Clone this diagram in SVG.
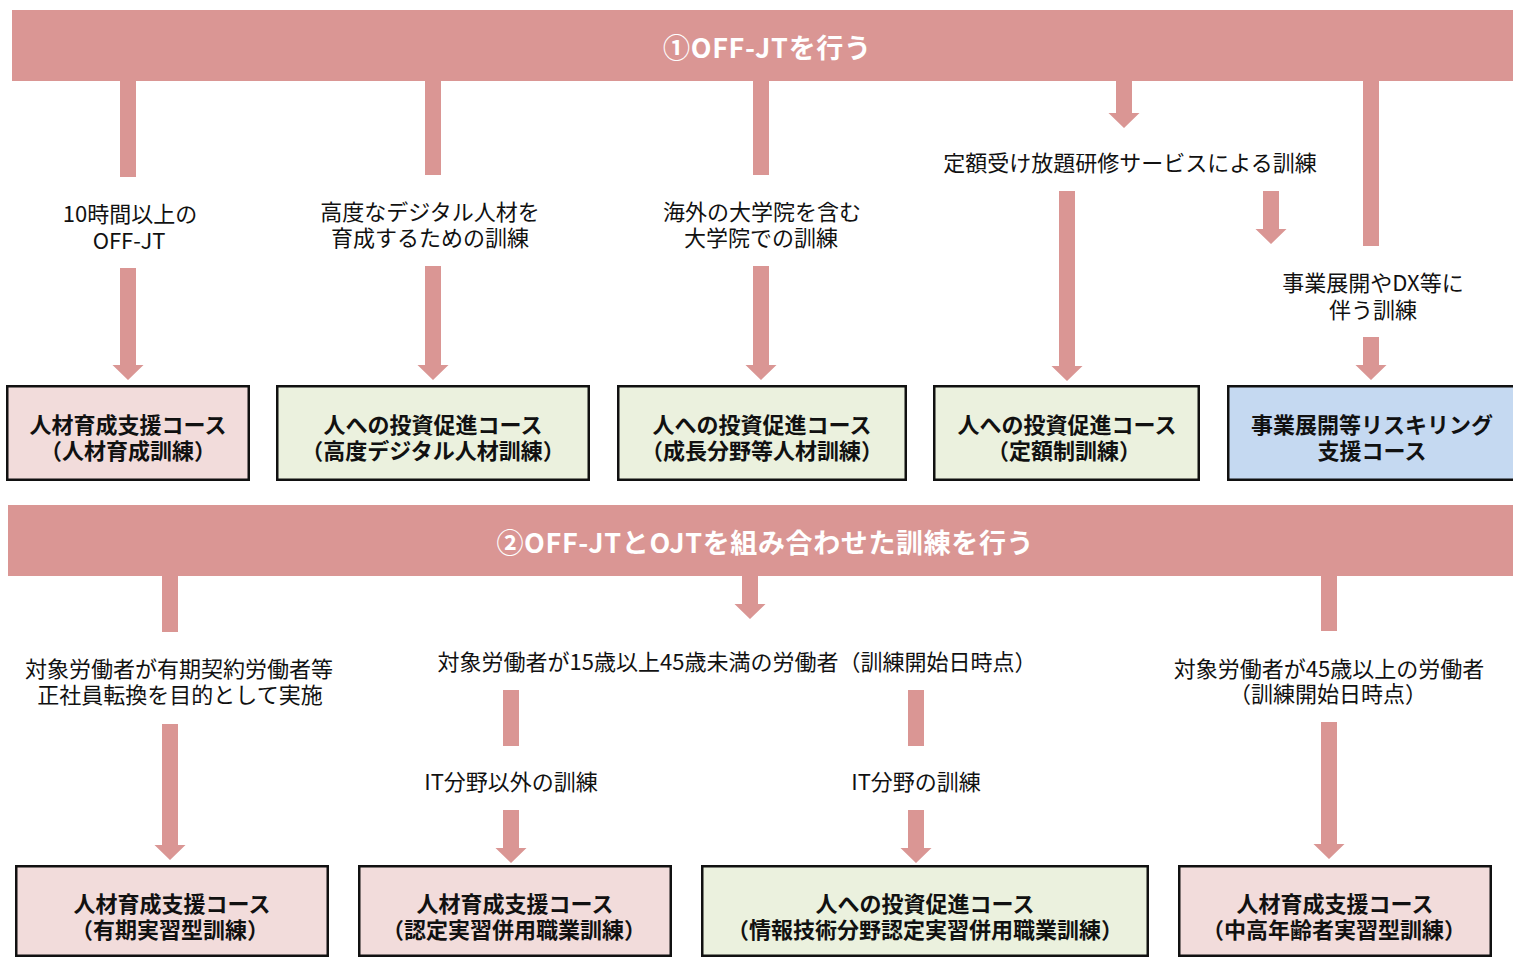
<svg xmlns="http://www.w3.org/2000/svg" width="1513" height="958" viewBox="0 0 1513 958">
<style>
.bn{fill:#DA9694}
.bt{font-family:"Noto Sans CJK JP",sans-serif;font-weight:bold;font-size:27px;fill:#fff;text-anchor:middle}
.ar{fill:#DA9694}
.lb{font-family:"Noto Sans CJK JP",sans-serif;font-size:22px;fill:#111;text-anchor:middle}
.bx{stroke:#111;stroke-width:2.5}
.pk{fill:#F2DCDB}
.gr{fill:#EBF1DE}
.bl{fill:#C5D9F1}
.nt{font-family:"Noto Sans CJK JP",sans-serif;font-weight:bold;font-size:22px;fill:#111;text-anchor:middle}
</style>
<rect width="1513" height="958" fill="#fff"/>
<g id="banner1">
<rect class="bn" x="12" y="10" width="1501" height="71"/>
<text class="bt" x="767" y="58" textLength="208">①OFF-JTを行う</text>
</g>
<g id="banner2">
<rect class="bn" x="8" y="505" width="1505" height="71"/>
<text class="bt" x="765" y="553" textLength="537">②OFF-JTとOJTを組み合わせた訓練を行う</text>
</g>
<g id="connectors">
<rect class="ar" x="120" y="81" width="16" height="96"/>
<path class="ar" d="M120,268H136V365H143.5L128,380L112.5,365H120Z"/>
<rect class="ar" x="425" y="81" width="16" height="94"/>
<path class="ar" d="M425,266H441V365H448.5L433,380L417.5,365H425Z"/>
<rect class="ar" x="753" y="81" width="16" height="94"/>
<path class="ar" d="M753,266H769V365H776.5L761,380L745.5,365H753Z"/>
<path class="ar" d="M1116,81H1132V113H1139.5L1124,128L1108.5,113H1116Z"/>
<path class="ar" d="M1059,191H1075V366H1082.5L1067,381L1051.5,366H1059Z"/>
<path class="ar" d="M1263,191H1279V229H1286.5L1271,244L1255.5,229H1263Z"/>
<rect class="ar" x="1363" y="81" width="16" height="165"/>
<path class="ar" d="M1363,337H1379V365H1386.5L1371,380L1355.5,365H1363Z"/>
<rect class="ar" x="162" y="576" width="16" height="56"/>
<path class="ar" d="M162,724H178V845H185.5L170,860L154.5,845H162Z"/>
<path class="ar" d="M742,576H758V604H765.5L750,619L734.5,604H742Z"/>
<rect class="ar" x="503" y="690" width="16" height="56"/>
<path class="ar" d="M503,810H519V848H526.5L511,863L495.5,848H503Z"/>
<rect class="ar" x="908" y="690" width="16" height="56"/>
<path class="ar" d="M908,810H924V848H931.5L916,863L900.5,848H908Z"/>
<rect class="ar" x="1321" y="576" width="16" height="55"/>
<path class="ar" d="M1321,722H1337V844H1344.5L1329,859L1313.5,844H1321Z"/>
<text class="lb"><tspan x="130" y="222">10時間以上の</tspan><tspan x="129" y="249">OFF-JT</tspan></text>
<text class="lb"><tspan x="430" y="220">高度なデジタル人材を</tspan><tspan x="430" y="246">育成するための訓練</tspan></text>
<text class="lb"><tspan x="762" y="220">海外の大学院を含む</tspan><tspan x="761" y="246">大学院での訓練</tspan></text>
<text class="lb" x="1130" y="171">定額受け放題研修サービスによる訓練</text>
<text class="lb"><tspan x="1373" y="291">事業展開やDX等に</tspan><tspan x="1373" y="318">伴う訓練</tspan></text>
<text class="lb"><tspan x="179" y="677">対象労働者が有期契約労働者等</tspan><tspan x="180" y="703">正社員転換を目的として実施</tspan></text>
<text class="lb" x="737" y="670">対象労働者が15歳以上45歳未満の労働者（訓練開始日時点）</text>
<text class="lb" x="511" y="790">IT分野以外の訓練</text>
<text class="lb" x="916" y="790">IT分野の訓練</text>
<text class="lb"><tspan x="1329" y="677">対象労働者が45歳以上の労働者</tspan><tspan x="1328" y="702">（訓練開始日時点）</tspan></text>
</g>
<g id="box1">
<rect class="bx pk" x="7.25" y="386.25" width="241.5" height="93.5"/>
<text class="nt"><tspan x="128" y="433">人材育成支援コース</tspan><tspan x="128" y="459">（人材育成訓練）</tspan></text>
</g>
<g id="box2">
<rect class="bx gr" x="277.25" y="386.25" width="311.5" height="93.5"/>
<text class="nt"><tspan x="433" y="433">人への投資促進コース</tspan><tspan x="433" y="459">（高度デジタル人材訓練）</tspan></text>
</g>
<g id="box3">
<rect class="bx gr" x="618.25" y="386.25" width="287.5" height="93.5"/>
<text class="nt"><tspan x="762" y="433">人への投資促進コース</tspan><tspan x="762" y="459">（成長分野等人材訓練）</tspan></text>
</g>
<g id="box4">
<rect class="bx gr" x="934.25" y="386.25" width="264.5" height="93.5"/>
<text class="nt"><tspan x="1067" y="433">人への投資促進コース</tspan><tspan x="1064" y="459">（定額制訓練）</tspan></text>
</g>
<g id="box5">
<rect class="bx bl" x="1228.25" y="386.25" width="300" height="93.5"/>
<text class="nt"><tspan x="1372" y="433">事業展開等リスキリング</tspan><tspan x="1372" y="459">支援コース</tspan></text>
</g>
<g id="box6">
<rect class="bx pk" x="16.25" y="866.25" width="311.5" height="89.5"/>
<text class="nt"><tspan x="172" y="912">人材育成支援コース</tspan><tspan x="170" y="938">（有期実習型訓練）</tspan></text>
</g>
<g id="box7">
<rect class="bx pk" x="359.25" y="866.25" width="311.5" height="89.5"/>
<text class="nt"><tspan x="515" y="912">人材育成支援コース</tspan><tspan x="514" y="938">（認定実習併用職業訓練）</tspan></text>
</g>
<g id="box8">
<rect class="bx gr" x="702.25" y="866.25" width="445.5" height="89.5"/>
<text class="nt"><tspan x="925" y="912">人への投資促進コース</tspan><tspan x="925" y="938">（情報技術分野認定実習併用職業訓練）</tspan></text>
</g>
<g id="box9">
<rect class="bx pk" x="1179.25" y="866.25" width="311.5" height="89.5"/>
<text class="nt"><tspan x="1335" y="912">人材育成支援コース</tspan><tspan x="1334" y="938">（中高年齢者実習型訓練）</tspan></text>
</g>
</svg>
